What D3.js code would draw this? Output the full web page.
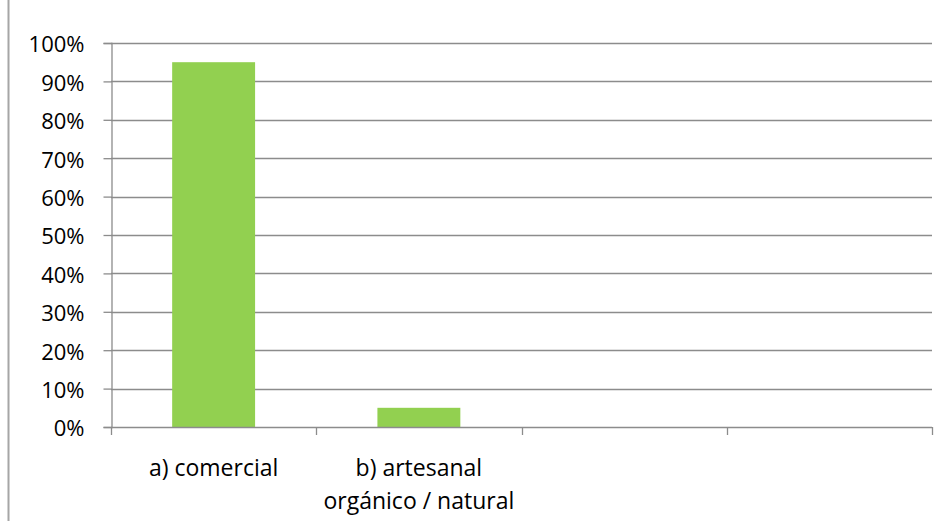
<!DOCTYPE html>
<html><head><meta charset="utf-8">
<script src="https://cdn.jsdelivr.net/npm/d3@7"></script>
<style>body{margin:0;background:#fff}svg{display:block}</style>
</head><body>
<svg id="c" width="950" height="521"></svg>
<script>
const categories = [["a) comercial"], ["b) artesanal", "orgánico / natural"], [""], [""]];
const values = [0.95, 0.05, null, null];
const yTicks = [0, 0.1, 0.2, 0.3, 0.4, 0.5, 0.6, 0.7, 0.8, 0.9, 1.0];

const svg = d3.select("#c");
const font = "'Open Sans', sans-serif";
const x0 = 111, x1 = 932, yTop = 43, yBot = 427;

svg.append("line").attr("x1", 8.5).attr("x2", 8.5).attr("y1", 0).attr("y2", 521)
  .attr("stroke", "#a6a6a6").attr("stroke-width", 2);

const x = d3.scaleBand().domain(d3.range(categories.length)).range([x0, x1])
  .paddingInner(0.596).paddingOuter(0.298);
const y = d3.scaleLinear().domain([0, 1]).range([yBot, yTop]);

// gridlines
svg.append("g").selectAll("line").data(yTicks.slice(1)).join("line")
  .attr("x1", x0).attr("x2", x1).attr("y1", d => Math.round(y(d)) + 0.5).attr("y2", d => Math.round(y(d)) + 0.5)
  .attr("stroke", "#8c8c8c").attr("stroke-width", 1.3);

// y axis
const ya = svg.append("g").attr("transform", `translate(${x0 + 0.5},0)`)
  .call(d3.axisLeft(y).tickValues(yTicks).tickFormat(d3.format(".0%")).tickSize(8).tickPadding(19));
ya.select(".domain").attr("stroke", "#8c8c8c").attr("stroke-width", 1.3);
ya.selectAll(".tick line").attr("stroke", "#8c8c8c").attr("stroke-width", 1.3);
ya.selectAll(".tick text").attr("font-family", font).attr("font-size", 22).attr("fill", "#000")
  .attr("dy", "0.4em");

// bars
svg.append("g").selectAll("rect").data(values.map((v, i) => ({v, i})).filter(d => d.v != null)).join("rect")
  .attr("x", d => x(d.i)).attr("width", x.bandwidth())
  .attr("y", d => y(d.v)).attr("height", d => yBot - y(d.v))
  .attr("fill", "#92d050");

// x axis
const step = x.step();
const edges = d3.range(categories.length + 1).map(i => x0 + i * step);
svg.append("line").attr("x1", x0).attr("x2", x1).attr("y1", yBot + 0.5).attr("y2", yBot + 0.5)
  .attr("stroke", "#8c8c8c").attr("stroke-width", 1.3);
svg.append("g").selectAll("line").data(edges).join("line")
  .attr("x1", d => Math.round(d) + 0.5).attr("x2", d => Math.round(d) + 0.5)
  .attr("y1", yBot).attr("y2", yBot + 8)
  .attr("stroke", "#8c8c8c").attr("stroke-width", 1.3);

const lab = svg.append("g").selectAll("text").data(categories.map((c, i) => ({c, i}))).join("text")
  .attr("x", d => x(d.i) + x.bandwidth() / 2).attr("y", 476)
  .attr("text-anchor", "middle").attr("font-family", font).attr("font-size", 23).attr("fill", "#000");
lab.selectAll("tspan").data(d => d.c).join("tspan")
  .attr("x", function() { return d3.select(this.parentNode).attr("x"); })
  .attr("dy", (d, j) => j === 0 ? 0 : 33).text(d => d);
</script>
</body></html>
